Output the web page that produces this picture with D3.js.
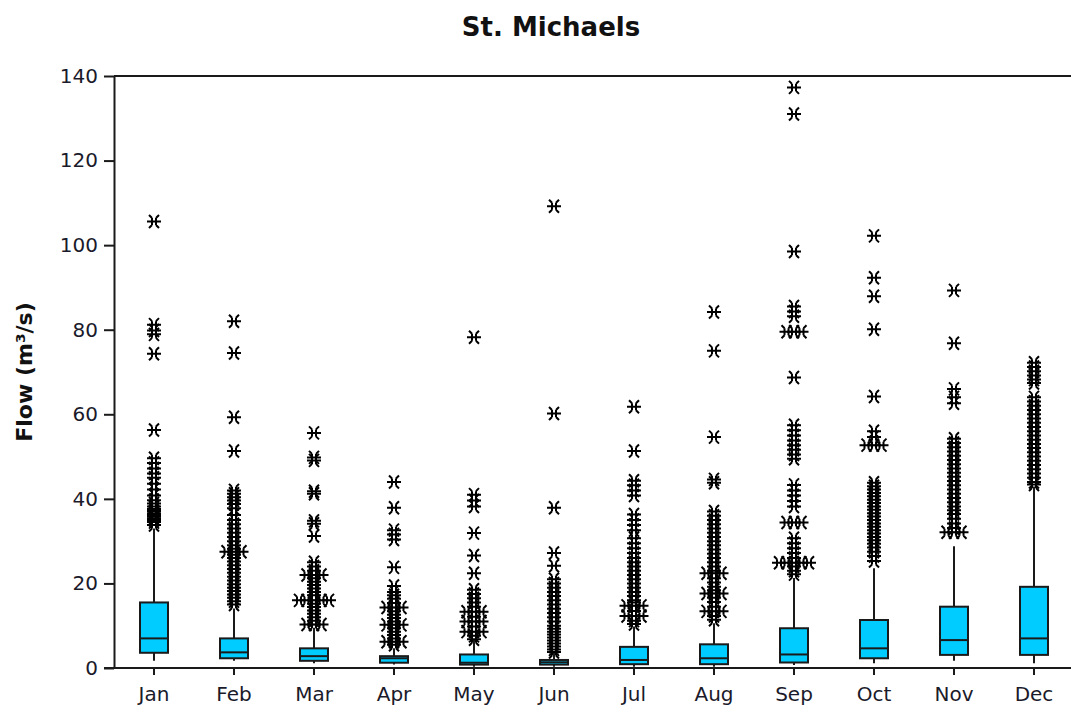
<!DOCTYPE html>
<html>
<head>
    <meta charset="UTF-8">
    <title>St. Michaels</title>
    <style>
        body { margin: 0; background: #fff; }
        svg { display: block; font-family: "DejaVu Sans", Verdana, sans-serif; }
    </style>
</head>
<body>
    <svg width="1071" height="713"></svg>
    <script src="https://cdn.jsdelivr.net/npm/d3@7"></script>
    <script>
        // monthly flow box plots
        const months = ["Jan", "Feb", "Mar", "Apr", "May", "Jun", "Jul", "Aug", "Sep", "Oct", "Nov", "Dec"];
        const yTicks = [0, 20, 40, 60, 80, 100, 120, 140];

        // [low whisker, Q1, median, Q3, high whisker]
        const boxStats = [
            [1.7, 3.6, 7.0, 15.5, 33.0],
            [1.7, 2.3, 3.7, 7.0, 14.1],
            [1.1, 1.7, 2.8, 4.65, 9.5],
            [0.8, 1.25, 2.3, 2.8, 4.7],
            [0.3, 0.8, 1.25, 3.2, 6.6],
            [0.3, 0.8, 1.35, 1.9, 3.6],
            [0.3, 0.9, 1.9, 5.0, 9.8],
            [0.3, 0.9, 2.3, 5.6, 10.6],
            [0.7, 1.3, 3.2, 9.4, 21.3],
            [1.1, 2.3, 4.65, 11.35, 23.6],
            [1.7, 3.1, 6.6, 14.5, 28.8],
            [1.1, 3.1, 7.0, 19.2, 42.9]
        ];

        const outJan = [105.6, 81.2, 79.8, 78.9, 74.3, 56.3, 49.6, 48.5, 47.2, 46, 45, 43.6, 42.2, 40.8, 39.7, 38.9, 38.2,
            37.6, 37.1, 36.6, 36.2, 35.8, 35.4, 35, 34.5, 33.8];
        const outFeb = [82, 74.5, 59.3, 51.3, 42, 41.2, 40.4, 39.6, 38.8, 37.8, 36.2, 35, 34, 33, 32, 31, 30, 29, 28.2,
            27.5, 27.5, 27.5, 26.8, 26, 25.2, 24.3, 23.4, 22.5, 21.6, 20.7, 19.8, 19, 18.2, 17.4, 16.6, 15.8, 15];
        const outMar = [55.6, 49.8, 49.1, 41.8, 41.2, 34.8, 34.1, 31.2, 25, 24, 23, 22, 22, 22, 21.2, 20.4, 19.6, 18.8,
            18, 17.2, 16, 16, 16, 16, 16, 15.2, 14.4, 13.6, 12.8, 12, 11.2, 10.3, 10.3, 10.3];
        const outApr = [44, 37.9, 32.6, 31.6, 30.4, 23.8, 19.4, 18, 17.2, 16.4, 15.4, 14.3, 14.3, 14.3, 13.4, 12.6,
            11.8, 11, 10.2, 10.2, 10.2, 9.4, 8.6, 7.8, 7, 6.2, 6.2, 6.2, 5.5];
        const outMay = [78.2, 41, 39.6, 38.2, 31.9, 26.6, 22.4, 18.5, 17.5, 16.5, 15.5, 14.5, 13.3, 13.3, 13.3, 12.1,
            11, 11, 11, 9.8, 8.6, 8.6, 8.6, 7.6, 6.8];
        const outJun = [109.2, 60.2, 37.9, 27.2, 24.2, 21, 20, 19, 18, 17, 16, 15, 14, 13, 12, 11, 10, 9.3, 8.6, 7.9,
            7.2, 6.5, 5.8, 5.1, 4.4, 3.8];
        const outJul = [61.8, 51.3, 44.3, 43.2, 42, 40.8, 36.3, 35, 33.8, 32.6, 30.7, 29.5, 28.3, 27.2, 26, 25, 24,
            23, 22, 21, 20, 19, 18, 17, 16, 15.5, 14.7, 14.7, 14.7, 13.5, 12.3, 12.3, 12.3, 11.2, 10.4];
        const outAug = [84.2, 75, 54.6, 44.6, 43.8, 37, 36, 35, 34, 33, 32, 31, 30, 29, 28, 27, 26, 25, 24, 23, 22.4,
            22.4, 22.4, 21.2, 20.2, 19.2, 18.4, 17.6, 17.6, 17.6, 16.6, 15.6, 14.5, 13.4, 13.4, 13.4, 12.3, 11.4];
        const outSep = [137.3, 131, 98.5, 85.5, 84.3, 83.2, 79.5, 79.5, 79.5, 68.7, 57.4, 56.2, 55, 53.8, 52.7, 51.6,
            50.5, 49.5, 43.3, 42, 40.8, 39.5, 38.2, 34.4, 34.4, 34.4, 30.7, 29.5, 28.3, 27.2, 26, 24.9, 24.9, 24.9,
            24.9, 24.9, 24, 23, 22.2];
        const outOct = [102.2, 92.3, 87.9, 80.1, 64.2, 56, 54.6, 52.7, 52.7, 52.7, 43.8, 43, 42.2, 41.4, 40.6, 39.8,
            39, 38.2, 37.4, 36.6, 35.8, 35, 34.2, 33.4, 32.6, 31.8, 31, 30.2, 29.4, 28.5, 27.5, 26.5, 25.3];
        const outNov = [89.3, 76.8, 66, 64, 62.6, 54.2, 53.2, 52.2, 51.2, 50.2, 49.2, 48.2, 47.2, 46.2, 45.2, 44.2,
            43.2, 42.2, 41.2, 40.2, 39.2, 38.2, 37.3, 36.4, 35.3, 34.2, 33.1, 32.1, 32.1, 32.1];
        const outDec = [72.2, 71.2, 70.2, 69.2, 68.2, 67.4, 64, 63, 62, 61, 60, 59, 58, 57, 56, 55, 54, 53, 52, 51,
            50, 49, 48, 47, 46, 45, 44, 43.4];
        const outliers = [outJan, outFeb, outMar, outApr, outMay, outJun, outJul, outAug, outSep, outOct, outNov, outDec];

        const svg = d3.select("svg"),
            margin = { top: 76, left: 114 },
            x = d3.scaleBand().domain(months).range([margin.left, margin.left + 80 * months.length]),
            y = d3.scaleLinear().domain([0, 140]).range([668, margin.top]),
            boxW = 28,
            lineColor = "#1a1a1a";

        // title
        svg.append("text")
            .attr("x", 551)
            .attr("y", 36)
            .attr("text-anchor", "middle")
            .style("font-size", "26px")
            .style("font-weight", "bold")
            .attr("fill", "#111")
            .text("St. Michaels");

        // y axis label
        svg.append("text")
            .attr("transform", "translate(32,372) rotate(-90)")
            .attr("text-anchor", "middle")
            .style("font-size", "22px")
            .style("font-weight", "bold")
            .attr("fill", "#111")
            .text("Flow (m³/s)");

        // frame: top line
        svg.append("line")
            .attr("x1", margin.left).attr("x2", 1071)
            .attr("y1", y(140)).attr("y2", y(140))
            .attr("stroke", lineColor).attr("stroke-width", 2);

        const yAxis = svg.append("g")
            .attr("transform", `translate(${margin.left},0)`)
            .call(d3.axisLeft(y).tickValues(yTicks).tickSize(10).tickPadding(6).tickSizeOuter(0));

        const xAxis = svg.append("g")
            .attr("transform", `translate(0,${y(0)})`)
            .call(d3.axisBottom(x).tickSize(7).tickPadding(12).tickSizeOuter(0));
        xAxis.select(".domain").attr("d", `M${margin.left - 10},0H1071`);

        [xAxis, yAxis].forEach(a => {
            a.select(".domain").attr("stroke", lineColor).attr("stroke-width", 2);
            a.selectAll(".tick line").attr("stroke", lineColor).attr("stroke-width", 2);
            a.selectAll(".tick text").style("font-size", "20px").attr("fill", "#1a1a2a")
                .style("font-family", "'DejaVu Sans', Verdana, sans-serif");
        });

        const groups = svg.selectAll(".month")
            .data(months)
            .enter().append("g")
            .attr("class", "month")
            .attr("transform", d => `translate(${x(d) + x.bandwidth() / 2},0)`);

        // whiskers
        groups.append("line")
            .attr("y1", (d, i) => y(boxStats[i][0]))
            .attr("y2", (d, i) => y(boxStats[i][4]))
            .attr("stroke", lineColor).attr("stroke-width", 2);

        // boxes
        groups.append("rect")
            .attr("x", -boxW / 2)
            .attr("width", boxW)
            .attr("y", (d, i) => y(boxStats[i][3]))
            .attr("height", (d, i) => y(boxStats[i][1]) - y(boxStats[i][3]))
            .attr("fill", "#00ccff")
            .attr("stroke", lineColor).attr("stroke-width", 2);

        // medians
        groups.append("line")
            .attr("x1", -boxW / 2).attr("x2", boxW / 2)
            .attr("y1", (d, i) => y(boxStats[i][2]))
            .attr("y2", (d, i) => y(boxStats[i][2]))
            .attr("stroke", lineColor).attr("stroke-width", 2);

        // outlier marker, repeated values get spread sideways
        const star = "M-7,0H7M-2,-3.5V3.5M2,-3.5V3.5M-2,-3.5L-5,-6.5M2,-3.5L5,-6.5M-2,3.5L-5,6.5M2,3.5L5,6.5";
        groups.each(function (d, i) {
            const counts = d3.rollup(outliers[i], v => v.length, v => v);
            const seen = new Map();
            const pts = outliers[i].map(v => {
                const n = counts.get(v), k = seen.get(v) || 0;
                seen.set(v, k + 1);
                return { v, dx: (k - (n - 1) / 2) * 7.5 };
            });
            d3.select(this).selectAll(".out")
                .data(pts)
                .enter().append("path")
                .attr("class", "out")
                .attr("d", star)
                .attr("transform", p => `translate(${p.dx},${y(p.v)})`)
                .attr("fill", "none")
                .attr("stroke", "#000")
                .attr("stroke-width", 2);
        });
    </script>
</body>
</html>
